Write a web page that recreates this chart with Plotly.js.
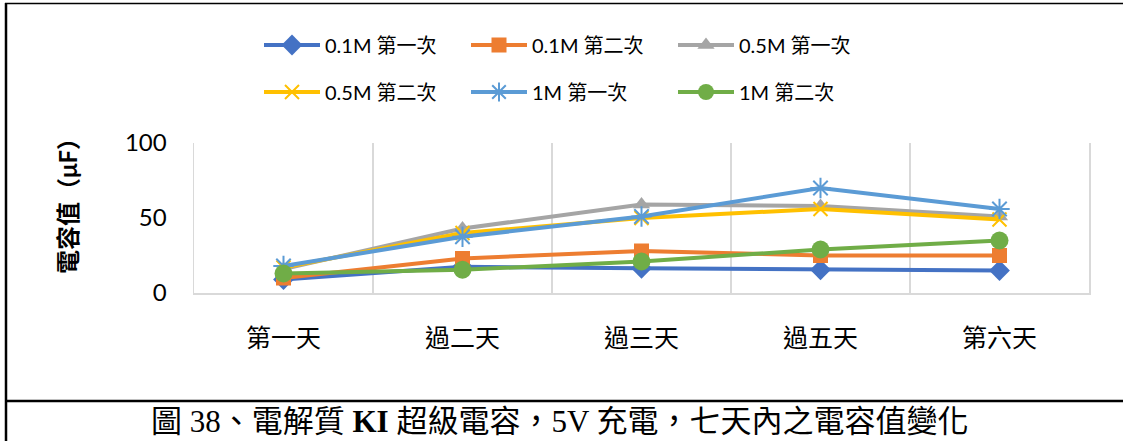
<!DOCTYPE html>
<html>
<head>
<meta charset="utf-8">
<script src="https://cdn.plot.ly/plotly-3.0.1.min.js"></script>
<style>html,body{margin:0;padding:0;background:#fff;}#chart{width:1123px;height:441px;}</style>
</head>
<body>
<div id="chart"></div>
<script>
const categories = ['第一天', '過二天', '過三天', '過五天', '第六天'];
const seriesNames = ['0.1M 第一次', '0.1M 第二次', '0.5M 第一次', '0.5M 第二次', '1M 第一次', '1M 第二次'];
const s01M_1 = [9, 17.5, 16.5, 15.5, 15];
const s01M_2 = [10, 23, 28, 25, 25];
const s05M_1 = [16, 43, 59, 58, 51];
const s05M_2 = [17, 40, 50, 56, 49];
const s1M_1 = [18, 37.5, 51, 70, 56];
const s1M_2 = [13, 15.5, 21, 29, 35];
const yTicks = [0, 50, 100];
const yTitle = '電容值（μF）';
const caption = '圖 38、電解質 <b>KI</b> 超級電容，5V 充電，七天內之電容值變化';

const seriesValues = [s01M_1, s01M_2, s05M_1, s05M_2, s1M_1, s1M_2];
const colors = ['#4472C4', '#ED7D31', '#A5A5A5', '#FFC000', '#5B9BD5', '#70AD47'];
const markers = [
  {symbol: 'diamond', size: 16},
  {symbol: 'square', size: 15},
  {symbol: 'triangle-up', size: 15},
  {symbol: 'x-thin-open', size: 14, open: true},
  {symbol: 'asterisk-open', size: 17, open: true},
  {symbol: 'circle', size: 18}
];

const traces = seriesValues.map((vals, i) => ({
  type: 'scatter',
  mode: 'lines+markers',
  name: seriesNames[i],
  x: categories,
  y: vals,
  legend: i < 3 ? 'legend' : 'legend2',
  line: {color: colors[i], width: 4},
  marker: markers[i].open
    ? {symbol: markers[i].symbol, size: markers[i].size, color: colors[i], line: {color: colors[i], width: 2}}
    : {symbol: markers[i].symbol, size: markers[i].size, color: colors[i], line: {width: 0}},
  hoverinfo: 'x+y+name'
}));

const L = 194, R = 1089, T = 143, B = 293, W = 1123, H = 441;
const px = v => (v - L) / (R - L);
const py = v => (B - v) / (B - T);

const legendFont = {family: 'Lato, "Noto Sans CJK TC", sans-serif', size: 20, color: '#000'};
const legendCommon = {
  orientation: 'h', xref: 'container', yref: 'container',
  xanchor: 'left', yanchor: 'middle',
  entrywidth: 136, entrywidthmode: 'pixels',
  itemwidth: 56, font: legendFont, bgcolor: 'rgba(0,0,0,0)',
  traceorder: 'normal', itemclick: false, itemdoubleclick: false
};

const layout = {
  width: W, height: H,
  margin: {l: L, r: W - R, t: T, b: H - B},
  paper_bgcolor: '#fff', plot_bgcolor: '#fff',
  font: {family: 'Lato, "Noto Sans CJK TC", sans-serif', color: '#000'},
  showlegend: true,
  legend: Object.assign({}, legendCommon, {x: 259 / W, y: 1 - 45 / H}),
  legend2: Object.assign({}, legendCommon, {x: 259 / W, y: 1 - 92 / H}),
  xaxis: {
    type: 'category', range: [-0.5, 4.5], tickson: 'boundaries',
    showgrid: true, gridcolor: '#d9d9d9', gridwidth: 1.5,
    showline: true, linecolor: '#d9d9d9', linewidth: 1.5,
    ticks: '', ticklabelstandoff: 22,
    tickfont: {family: '"Liberation Serif", "Noto Sans CJK TC", serif', size: 25, color: '#000'},
    zeroline: false, fixedrange: true
  },
  yaxis: {
    range: [0, 100], tickvals: yTicks, ticktext: yTicks.map(String),
    showgrid: false, zeroline: false,
    showline: true, mirror: true, linecolor: '#d9d9d9', linewidth: 1.5,
    ticks: '', ticklabelstandoff: 21,
    tickfont: {family: 'Lato, sans-serif', size: 24, color: '#000'},
    fixedrange: true
  },
  annotations: [
    {text: '<b>' + yTitle + '</b>', xref: 'paper', yref: 'paper', x: px(67), y: py(200),
     textangle: -90, showarrow: false, xanchor: 'center', yanchor: 'middle',
     font: {family: 'Lato, "Noto Sans CJK TC", sans-serif', size: 24, color: '#000'}},
    {text: caption, xref: 'paper', yref: 'paper', x: px(560), y: py(421),
     showarrow: false, xanchor: 'center', yanchor: 'middle',
     font: {family: '"Liberation Serif", "Noto Sans CJK TC", serif', size: 31, color: '#000'}}
  ],
  shapes: [
    {type: 'line', xref: 'paper', yref: 'paper', x0: px(6), x1: px(6), y0: py(3), y1: py(441), line: {color: '#000', width: 2.5}},
    {type: 'line', xref: 'paper', yref: 'paper', x0: px(5), x1: px(1123), y0: py(3.5), y1: py(3.5), line: {color: '#000', width: 1.5}},
    {type: 'line', xref: 'paper', yref: 'paper', x0: px(6), x1: px(1123), y0: py(401), y1: py(401), line: {color: '#000', width: 2.5}}
  ]
};

Plotly.newPlot('chart', traces, layout, {displayModeBar: false, staticPlot: true});
</script>
</body>
</html>
